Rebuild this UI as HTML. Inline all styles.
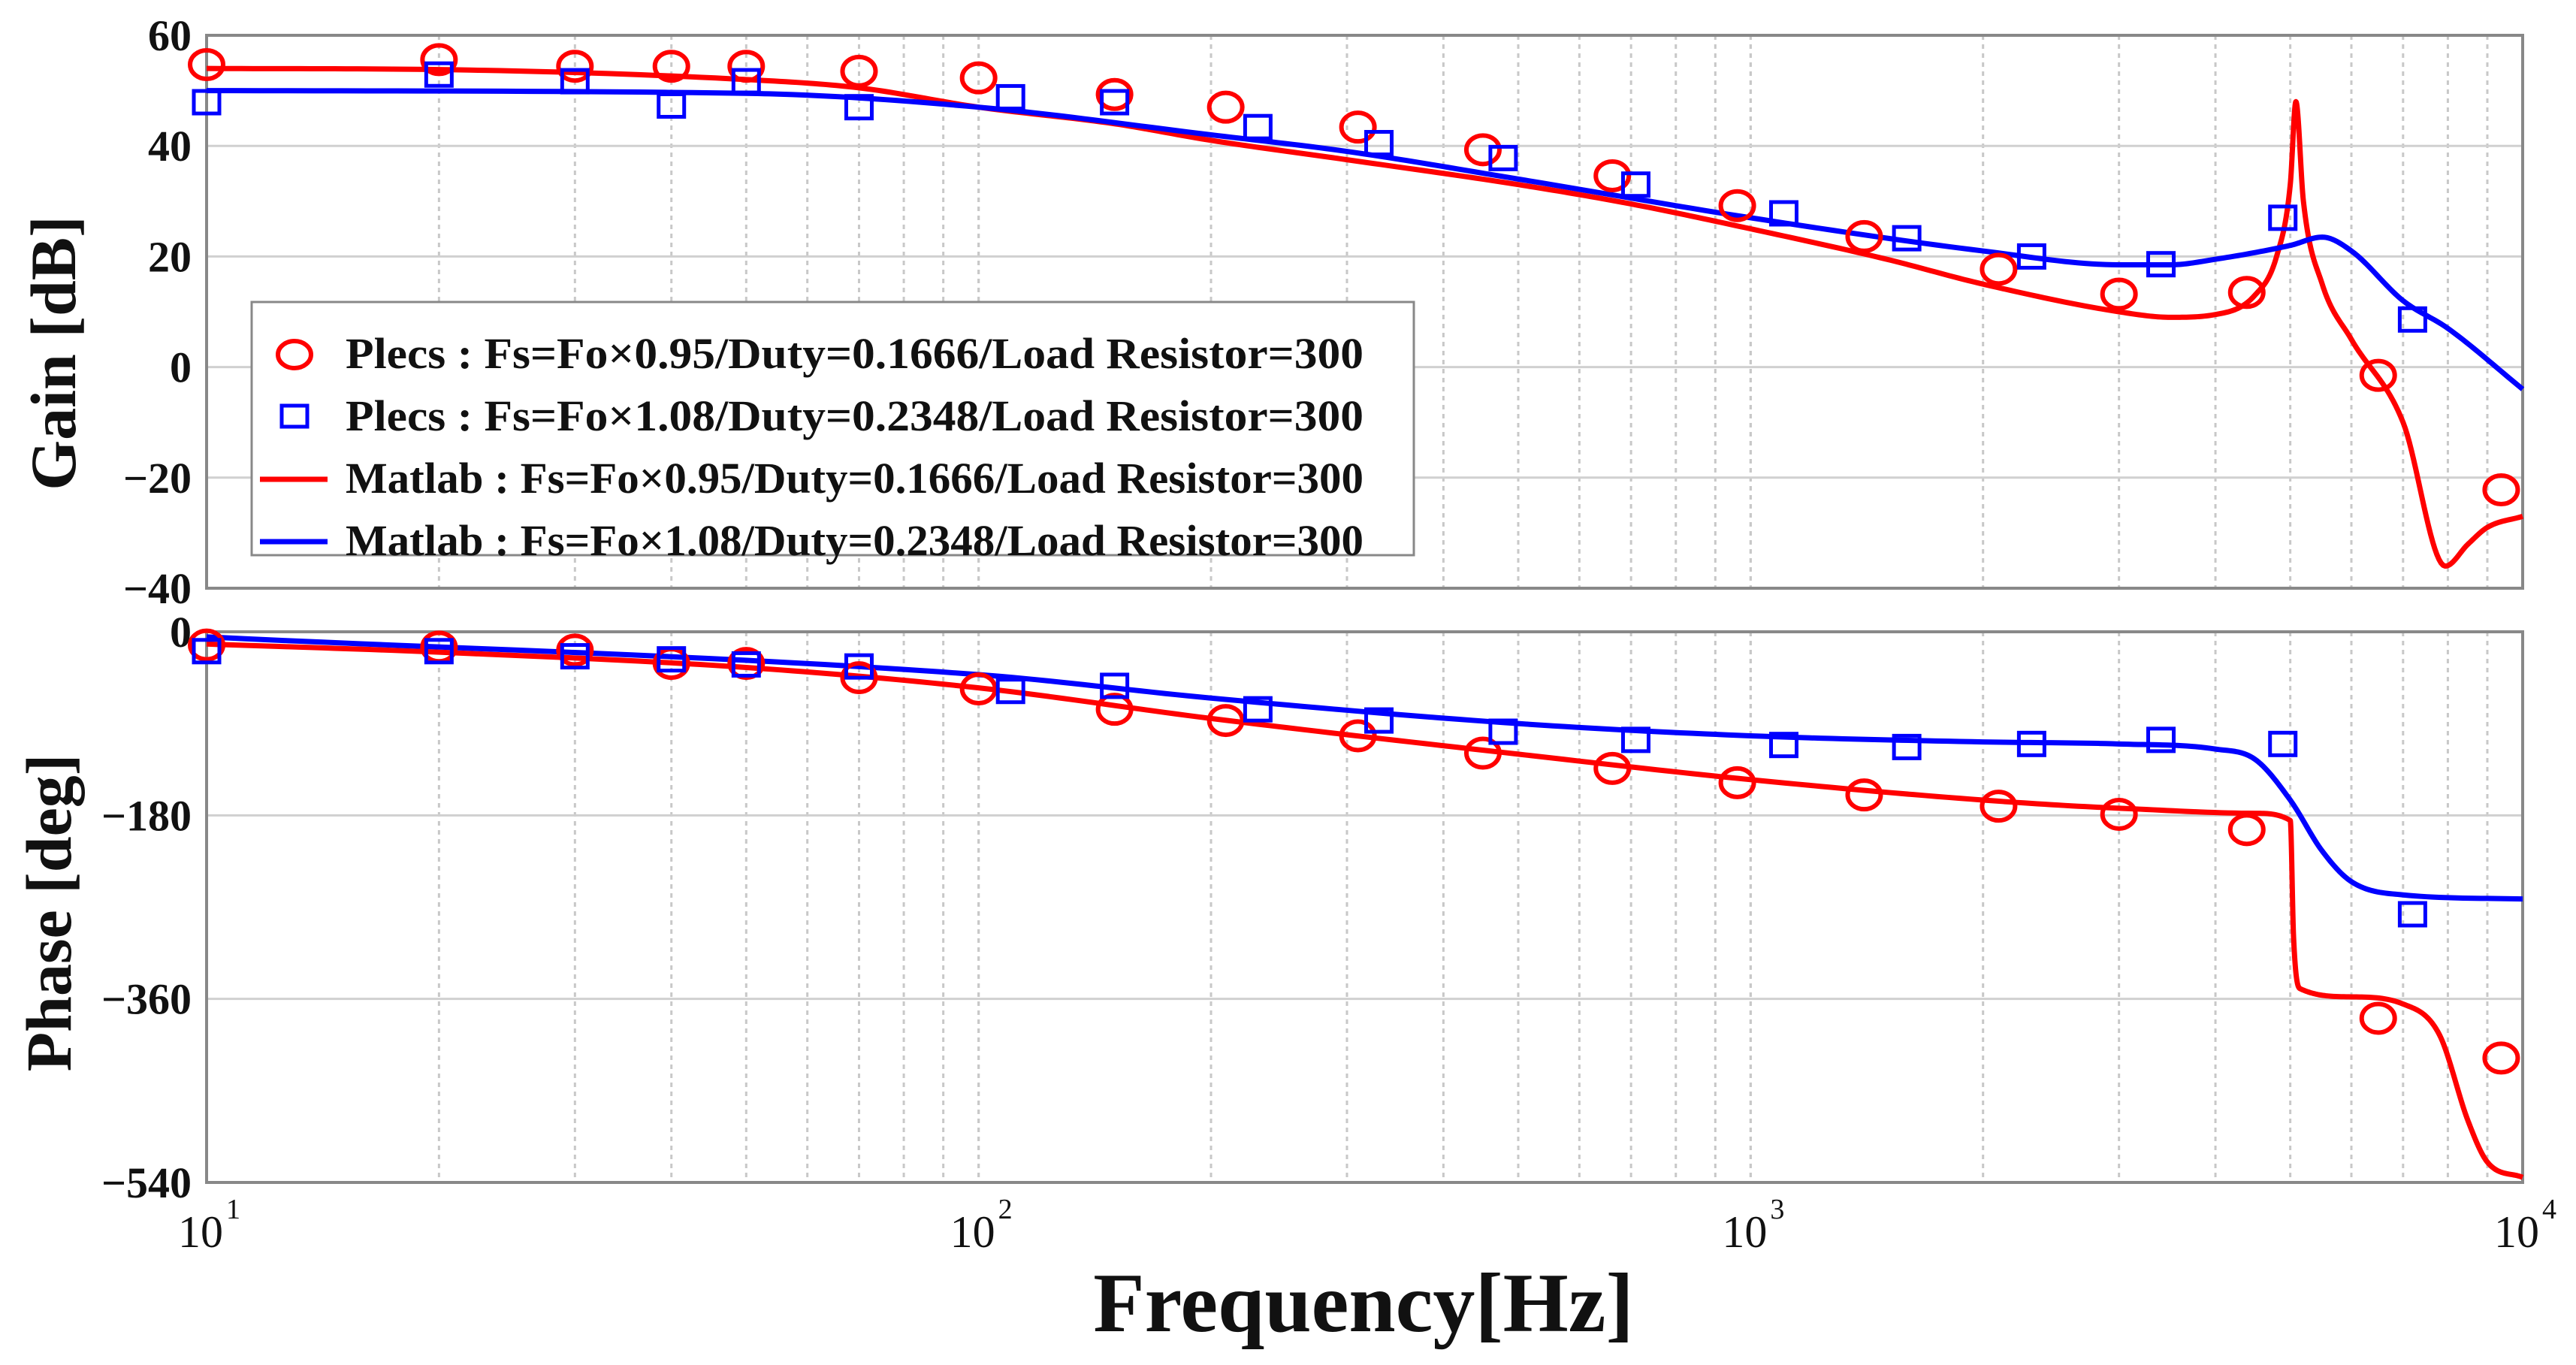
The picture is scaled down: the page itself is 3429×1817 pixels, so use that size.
<!DOCTYPE html>
<html><head><meta charset="utf-8"><style>
html,body{margin:0;padding:0;background:#fff;}
svg{display:block;font-family:"Liberation Serif",serif;}
</style></head><body>
<svg id="chart" width="3429" height="1817" viewBox="0 0 3429 1817" xmlns="http://www.w3.org/2000/svg"></svg>
<script>
// ---- data ----
const gainTicks=[60,40,20,0,-20,-40];
const phaseTicks=[0,-180,-360,-540];
const decadeLabels=["1","2","3","4"];
const redGainFreq=[10,20,50,70,100,150,200,300,500,700,1000,1500,2000,3000,3500,4000,4500,4800,5000,5085,5200,5500,6000,7000,7940,8500,9000,10000];
const redGainVal=[54,53.8,52,50.5,47,44,41,37.5,33,29.5,25,19.5,15,10,9,9.5,13,20,33,48,30,15,5,-10,-36,-32,-29,-27];
const blueGainFreq=[10,50,100,200,300,500,1000,2000,3000,3500,4000,5000,5500,6000,7000,8000,10000];
const blueGainVal=[50,49.5,47,42,39,34,27,21,18.5,18.5,19.5,22,23.5,21,12,7,-4];
const redPhaseFreq=[10,20,50,100,200,500,1000,2000,3000,4500,5000,5050,5150,6000,7000,7800,8500,9000,10000];
const redPhaseVal=[-12,-20,-35,-55,-85,-120,-145,-165,-173,-178,-185,-300,-350,-358,-365,-395,-480,-520,-535];
const bluePhaseFreq=[10,100,200,500,1000,2000,3000,4000,4500,5000,5500,6000,7000,10000];
const bluePhaseVal=[-5,-42,-65,-90,-102,-108,-110,-115,-125,-165,-215,-245,-258,-262];
const redMkFreq=[10,20,30,40,50,70,100,150,209,310,450,662,961,1403,2095,3000,4392,6500,9380];
const redMkGain=[54.7,55.6,54.4,54.4,54.4,53.5,52.3,49.3,47,43.4,39.3,34.6,29.2,23.6,17.7,13.2,13.5,-1.5,-22.2];
const redMkPhase=[-13,-15,-18,-31,-31,-45,-56,-76,-87,-102,-119,-134,-148,-160,-171,-179,-194,-379,-418];
const blueMkFreq=[10,20,30,40,50,70,110,150,230,330,478,710,1104,1593,2312,3400,4890,7200];
const blueMkGain=[47.9,52.9,51.7,47.3,51.7,47,48.8,47.9,43.4,40.5,37.8,33,27.8,23.3,20,18.6,27,8.6];
const blueMkPhase=[-19,-19,-24,-27,-32,-34,-58,-53,-76,-87,-98,-106,-111,-113,-110,-106,-110,-277];
const legendLabels=["Plecs : Fs=Fo×0.95/Duty=0.1666/Load Resistor=300","Plecs : Fs=Fo×1.08/Duty=0.2348/Load Resistor=300","Matlab : Fs=Fo×0.95/Duty=0.1666/Load Resistor=300","Matlab : Fs=Fo×1.08/Duty=0.2348/Load Resistor=300"];
// ---- layout ----
const X0=275,X1=3358,T0=47,T1=783,B0=841,B1=1574;
const NS="http://www.w3.org/2000/svg";
const svg=document.getElementById('chart');
function el(t,a,p){const e=document.createElementNS(NS,t);for(const k in a)e.setAttribute(k,a[k]);(p||svg).appendChild(e);return e;}
const xs=f=>X0+(Math.log10(f)-1)/3*(X1-X0);
const yG=v=>T0+(60-v)/100*(T1-T0);
const yP=v=>B0+(0-v)/540*(B1-B0);
function panel(y0,y1,ticks,ys,name){
  const g=el('g',{});
  
  
  for(let d=1;d<=3;d++)for(let m=1;m<=10;m++){const f=Math.pow(10,d)*m;if(f>10000||(d==1&&m==1))continue;
    const x=xs(f);el('line',{x1:x,x2:x,y1:y0,y2:y1,stroke:'#c8c8c8','stroke-width':3,'stroke-dasharray':'6 6'},g);}
  ticks.forEach(t=>{const y=ys(t);el('line',{x1:X0,x2:X1,y1:y,y2:y,stroke:'#d0d0d0','stroke-width':3},g);
    const tl=el('text',{x:X0-20,y:y+20,'text-anchor':'end','font-size':58,'font-weight':'bold',fill:'#111'});
    tl.textContent=String(t).replace('-','−');
    
    });
  const r=el('rect',{x:X0,y:y0,width:X1-X0,height:y1-y0,fill:'none',stroke:'#888','stroke-width':4});
  
  
}
panel(T0,T1,gainTicks,yG,'gain');
panel(B0,B1,phaseTicks,yP,'phase');
// monotone cubic interpolation in log-frequency space
function smoothPts(fs,vs,ys){
  const n=fs.length,x=fs.map(f=>Math.log10(f)),y=vs.slice();
  const d=[],m=new Array(n);
  for(let i=0;i<n-1;i++)d.push((y[i+1]-y[i])/(x[i+1]-x[i]));
  m[0]=d[0];m[n-1]=d[n-2];
  for(let i=1;i<n-1;i++){m[i]=(d[i-1]*d[i]<=0)?0:(d[i-1]+d[i])/2;}
  for(let i=0;i<n-1;i++){if(d[i]==0){m[i]=0;m[i+1]=0;continue;}
    const a=m[i]/d[i],b=m[i+1]/d[i],s=a*a+b*b;if(s>9){const t=3/Math.sqrt(s);m[i]=t*a*d[i];m[i+1]=t*b*d[i];}}
  const pts=[];
  for(let i=0;i<n-1;i++){const h=x[i+1]-x[i];const N=20;
    for(let k=0;k<N;k++){const t=k/N,t2=t*t,t3=t2*t;
      const v=(2*t3-3*t2+1)*y[i]+(t3-2*t2+t)*h*m[i]+(-2*t3+3*t2)*y[i+1]+(t3-t2)*h*m[i+1];
      pts.push(xs(Math.pow(10,x[i]+t*h))+','+ys(v));}}
  pts.push(xs(fs[n-1])+','+ys(vs[n-1]));
  return pts.join(' ');
}
function line(fs,vs,ys,col,name){
  const p=el('polyline',{points:smoothPts(fs,vs,ys),fill:'none',stroke:col,'stroke-width':7,'stroke-linejoin':'round'});
  
  
}
line(redGainFreq,redGainVal,yG,'#ff0000','matlab-red-gain-line');
line(blueGainFreq,blueGainVal,yG,'#0000ff','matlab-blue-gain-line');
line(redPhaseFreq,redPhaseVal,yP,'#ff0000','matlab-red-phase-line');
line(bluePhaseFreq,bluePhaseVal,yP,'#0000ff','matlab-blue-phase-line');
function circles(fs,vs,ys,name){fs.forEach((f,i)=>{const c=el('ellipse',{cx:xs(f),cy:ys(vs[i]),rx:22,ry:19,fill:'none',stroke:'#ff0000','stroke-width':6});
  
  });}
function squares(fs,vs,ys,name){fs.forEach((f,i)=>{const s=el('rect',{x:xs(f)-17,y:ys(vs[i])-15,width:34,height:30,fill:'none',stroke:'#0000ff','stroke-width':5});
  
  });}
circles(redMkFreq,redMkGain,yG,'plecs-red-gain-marker');
squares(blueMkFreq,blueMkGain,yG,'plecs-blue-gain-marker');
circles(redMkFreq,redMkPhase,yP,'plecs-red-phase-marker');
squares(blueMkFreq,blueMkPhase,yP,'plecs-blue-phase-marker');
// x tick labels
decadeLabels.forEach((e,i)=>{const x=X0+i*(X1-X0)/3;
  const t=el('text',{x:x-8,y:1660,'text-anchor':'middle','font-size':60,fill:'#111'});
  t.textContent='10';
  
  
  const s=el('text',{x:x+26,y:1622,'font-size':38,fill:'#111'});
  s.textContent=e;
  
  });
// legend
const lg=el('g',{});


el('rect',{x:335,y:402,width:1547,height:337,fill:'#fff',stroke:'#888','stroke-width':3},lg);
legendLabels.forEach((txt,i)=>{const y=490+i*83;
  if(i==0)el('ellipse',{cx:392,cy:y-18,rx:22,ry:18,fill:'none',stroke:'#ff0000','stroke-width':6},lg);
  if(i==1)el('rect',{x:375,y:y-33,width:34,height:28,fill:'none',stroke:'#0000ff','stroke-width':5},lg);
  if(i>=2)el('line',{x1:346,x2:436,y1:y-18,y2:y-18,stroke:i==2?'#ff0000':'#0000ff','stroke-width':7},lg);
  const t=el('text',{x:460,y:y,'font-size':58,'font-weight':'bold',fill:'#111',textLength:1355,lengthAdjust:'spacingAndGlyphs'},lg);
  t.textContent=txt;
  
  });
// axis titles
const g1=el('text',{x:0,y:0,transform:'translate(100,470) rotate(-90)','text-anchor':'middle','font-size':86,'font-weight':'bold',fill:'#111'});
g1.textContent='Gain [dB]';


const p1=el('text',{x:0,y:0,transform:'translate(94,1215) rotate(-90)','text-anchor':'middle','font-size':86,'font-weight':'bold',fill:'#111'});
p1.textContent='Phase [deg]';


const xt=el('text',{x:1815,y:1772,'text-anchor':'middle','font-size':112,'font-weight':'bold',fill:'#111'});
xt.textContent='Frequency[Hz]';


</script>
</body></html>
